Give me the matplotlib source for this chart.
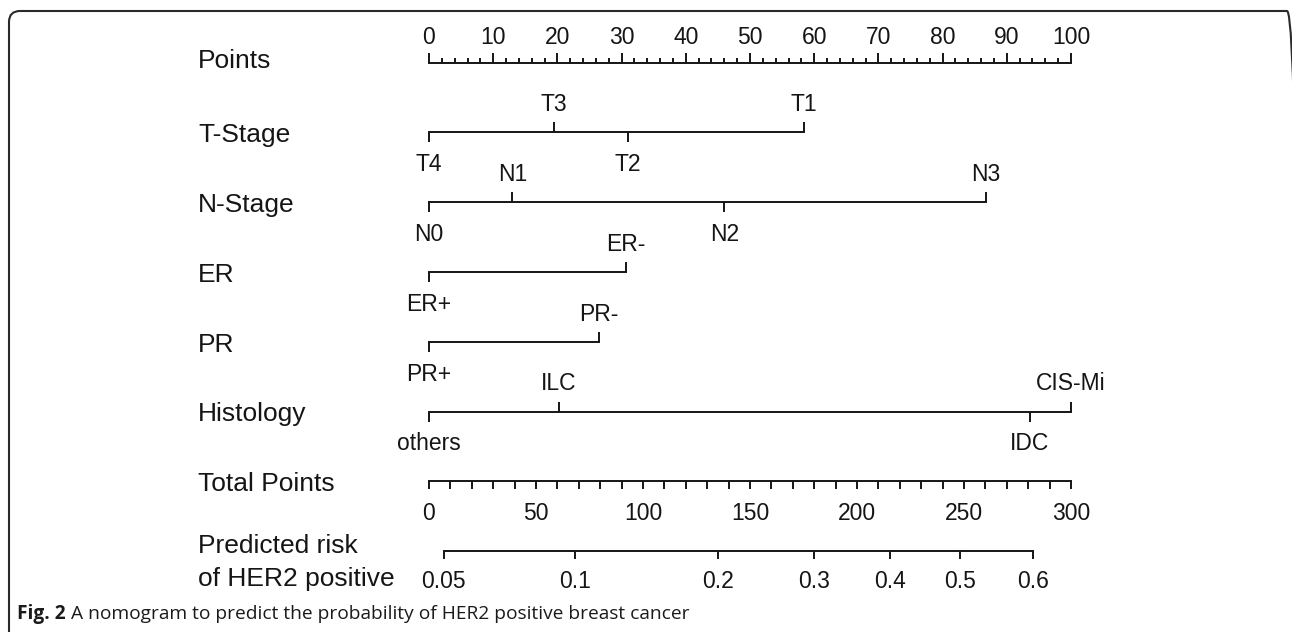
import numpy as np
import matplotlib.pyplot as plt
from matplotlib.patches import FancyBboxPatch
from matplotlib.transforms import offset_copy, IdentityTransform

plt.rcParams['font.family'] = ['Liberation Sans', 'DejaVu Sans']

# ---- data (points scale 0-100) ----
row_names = ['Points', 'T-Stage', 'N-Stage', 'ER', 'PR', 'Histology', 'Total Points']
risk_title = ['Predicted risk', 'of HER2 positive']

point_ticks = [0, 10, 20, 30, 40, 50, 60, 70, 80, 90, 100]

t_levels = ['T4', 'T3', 'T2', 'T1']
t_points = [0, 19.4, 31.0, 58.4]
n_levels = ['N0', 'N1', 'N2', 'N3']
n_points = [0, 13.0, 46.0, 86.7]
er_levels = ['ER+', 'ER-']
er_points = [0, 30.7]
pr_levels = ['PR+', 'PR-']
pr_points = [0, 26.5]
hist_levels = ['others', 'ILC', 'IDC', 'CIS-Mi']
hist_points = [0, 20.2, 93.6, 100]

total_ticks = [0, 50, 100, 150, 200, 250, 300]
total_minor = list(range(0, 301, 10))

risk_labels = ['0.05', '0.1', '0.2', '0.3', '0.4', '0.5', '0.6']
risk_total = [6.9, 68.3, 135.0, 179.8, 215.6, 248.3, 282.3]   # total points at each risk tick

# ---- layout (pixels) ----
W, H = 1292, 632
x0, ppx = 429, 6.42      # pixel of 0 points, pixels per point
y0, rpx = 62.5, 69.8     # pixel of first row, pixels per row
ink = '#151515'
lw = 1.4
fs_lab, fs_tick = 19, 16.5

fig = plt.figure(figsize=(W / 100, H / 100), dpi=100)
ax = fig.add_axes([0, 0, 1, 1])
ax.set_xlim(-x0 / ppx, (W - x0) / ppx)
ax.set_ylim((H - y0) / rpx, -y0 / rpx)
ax.axis('off')


def shift(px):
    return offset_copy(ax.transData, fig=fig, y=px, units='dots')


def tick(x, r, length_px, up=True):
    d = length_px / rpx
    ax.plot([x, x], [r, r - d if up else r + d], color=ink, lw=lw, solid_capstyle='butt')


# row labels on the left
lab_x = (198 - x0) / ppx
for i, name in enumerate(row_names):
    ax.text(lab_x, i, name, ha='left', va='baseline', fontsize=fs_lab, color=ink,
            transform=shift(-5 if i == 0 else -10))
ax.text(lab_x, 7, risk_title[0], ha='left', va='baseline', fontsize=fs_lab, color=ink,
        transform=shift(-2))
ax.text(lab_x, 7, risk_title[1], ha='left', va='baseline', fontsize=fs_lab, color=ink,
        transform=shift(-35))

# Points axis
ax.plot([point_ticks[0], point_ticks[-1]], [0, 0], color=ink, lw=lw)
for v in np.arange(0, 101, 2):
    tick(v, 0, 10 if v % 10 == 0 else 4.5, up=True)
for v in point_ticks:
    ax.text(v, 0, str(v), ha='center', va='baseline', fontsize=fs_tick, color=ink,
            transform=shift(19))

# predictor rows
rows = [(t_levels, t_points), (n_levels, n_points), (er_levels, er_points),
        (pr_levels, pr_points), (hist_levels, hist_points)]
for r, (levels, pts) in enumerate(rows, start=1):
    order = np.argsort(pts)
    ax.plot([min(pts), max(pts)], [r, r], color=ink, lw=lw)
    for k, j in enumerate(order):
        above = k % 2 == 1
        tick(pts[j], r, 10, up=above)
        ax.text(pts[j], r, levels[j], ha='center', va='baseline', fontsize=fs_tick, color=ink,
                transform=shift(21 if above else -39))

# Total points axis
ax.plot([0, 100], [6, 6], color=ink, lw=lw)
for v in total_minor:
    tick(v / 3, 6, 8, up=False)
for v in total_ticks:
    ax.text(v / 3, 6, str(v), ha='center', va='baseline', fontsize=fs_tick, color=ink,
            transform=shift(-39))

# Predicted risk axis
ax.plot([risk_total[0] / 3, risk_total[-1] / 3], [7, 7], color=ink, lw=lw)
for lab, v in zip(risk_labels, risk_total):
    tick(v / 3, 7, 8, up=False)
    ax.text(v / 3, 7, lab, ha='center', va='baseline', fontsize=fs_tick, color=ink,
            transform=shift(-37))

# frame and caption
frame = FancyBboxPatch((9, -30), W + 6 - 9, H - 11 + 30, boxstyle='round,pad=0,rounding_size=11',
                       transform=IdentityTransform(), fill=False, ec='#2a2a2a', lw=1.5)
fig.add_artist(frame)

cap_base = 1 - 619 / H
cap1 = fig.text(17 / W, cap_base, 'Fig. 2', fontsize=13.8, fontweight='bold',
                family=['Open Sans', 'DejaVu Sans'], color='#1a1a1a', va='baseline')
fig.canvas.draw()
bb = cap1.get_window_extent()
fig.text((bb.x1 + 5) / W, cap_base,
         'A nomogram to predict the probability of HER2 positive breast cancer',
         fontsize=13.8, family=['Open Sans', 'DejaVu Sans'], color='#1a1a1a', va='baseline')

fig.savefig('out.png', dpi=100)
